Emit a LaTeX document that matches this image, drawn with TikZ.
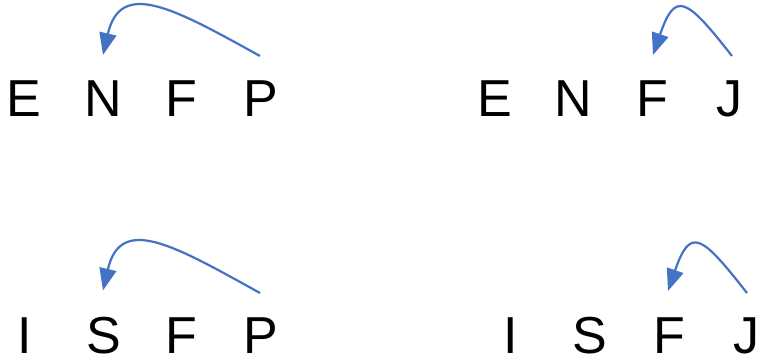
\documentclass[tikz,border=0pt]{standalone}
\usepackage{fontspec}
\setmainfont{Liberation Sans}
\usetikzlibrary{arrows.meta}
\definecolor{officeblue}{HTML}{4472C4}
\begin{document}
\begin{tikzpicture}[x=1pt,y=1pt,
  ltr/.style={anchor=base,inner sep=0pt,font=\fontsize{52}{60}\selectfont},
  backarc/.style={draw=officeblue,line width=2.2pt,-{Triangle[length=22pt,width=17pt]}}]
\useasboundingbox (0,0) rectangle (758,-358);
% top left
\node[ltr] (tlE) at (24,-117) {E};
\node[ltr] (tlN) at (103,-117) {N};
\node[ltr] (tlF) at (181,-117) {F};
\node[ltr] (tlP) at (261,-117) {P};
% top right
\node[ltr] (trE) at (495,-117) {E};
\node[ltr] (trN) at (573,-117) {N};
\node[ltr] (trF) at (652,-117) {F};
\node[ltr] (trJ) at (729,-117) {J};
% bottom left
\node[ltr] (blI) at (25,-353) {I};
\node[ltr] (blS) at (104,-353) {S};
\node[ltr] (blF) at (181,-353) {F};
\node[ltr] (blP) at (261,-353) {P};
% bottom right
\node[ltr] (brI) at (511,-353) {I};
\node[ltr] (brS) at (590,-353) {S};
\node[ltr] (brF) at (669,-353) {F};
\node[ltr] (brJ) at (746,-353) {J};
% arcs
\draw[backarc] ([shift={(-1,25)}]tlP.north) to[out=151,in=77,out distance=100pt,in distance=78pt] ([shift={(0,26)}]tlN.north);
\draw[backarc] ([shift={(3,25)}]trJ.north) to[out=128,in=71,out distance=75pt,in distance=68pt] ([shift={(1,26)}]trF.north);
\draw[backarc] ([shift={(-1,24)}]blP.north) to[out=151,in=77,out distance=100pt,in distance=78pt] ([shift={(-1,26)}]blS.north);
\draw[backarc] ([shift={(1,24)}]brJ.north) to[out=128,in=71,out distance=75pt,in distance=68pt] ([shift={(-1,26)}]brF.north);
\end{tikzpicture}
\end{document}
